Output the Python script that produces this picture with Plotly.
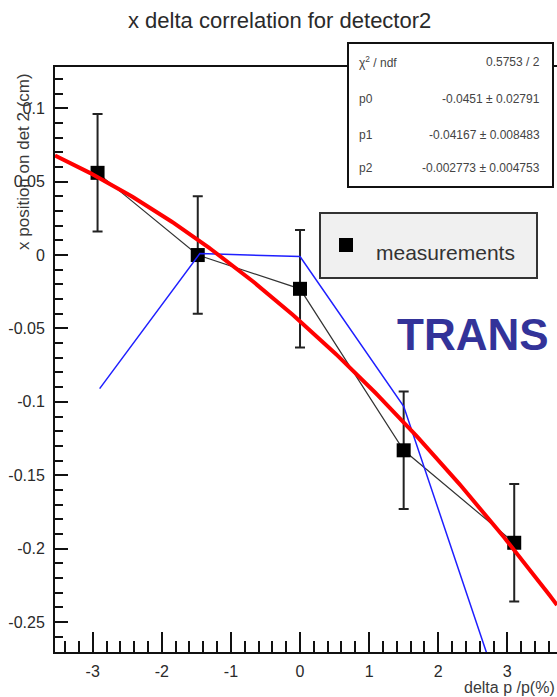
import numpy as np
import plotly.graph_objects as go

# Measured x position on detector 2 versus momentum deviation
delta_p = [-2.93, -1.48, 0.0, 1.5, 3.1]
x_pos = [0.056, 0.0, -0.023, -0.133, -0.196]
x_err = [0.04, 0.04, 0.04, 0.04, 0.04]

# Transport calculation (blue polyline)
trans_dp = [-2.9, -1.45, 0.0, 1.5, 3.1]
trans_x = [-0.091, 0.001, -0.001, -0.103, -0.327]

# Second-order polynomial fit results
fit_names = ["p0", "p1", "p2"]
fit_vals = [-0.0451, -0.04167, -0.002773]
fit_errs = [0.02791, 0.008483, 0.004753]
chi2, ndf = 0.5753, 2

# Axis tick labels
x_ticks = [-3, -2, -1, 0, 1, 2, 3]
x_ticktext = ["-3", "-2", "-1", "0", "1", "2", "3"]
y_ticks = [-0.25, -0.2, -0.15, -0.1, -0.05, 0, 0.05, 0.1]
y_ticktext = ["-0.25", "-0.2", "-0.15", "-0.1", "-0.05", "0", "0.05", "0.1"]

W, H = 557, 697
L, R, T, B = 55, 0, 67, 45
XR = [-3.546, 3.719]
YR = [-0.2704, 0.1281]
PW, PH = W - L - R, H - T - B


def px(xp):
    return (xp - L) / PW


def py(yp):
    return (H - B - yp) / PH


FONT = "Liberation Sans, Arial, Helvetica, sans-serif"
INK = "#2a2a2a"

fig = go.Figure()

# thin line joining the measurements
fig.add_trace(go.Scatter(x=delta_p, y=x_pos, mode="lines",
                         line=dict(color="#333333", width=1.2),
                         showlegend=False, hoverinfo="skip"))

# measurements with error bars
fig.add_trace(go.Scatter(x=delta_p, y=x_pos, mode="markers",
                         marker=dict(symbol="square", size=14, color="black"),
                         error_y=dict(type="data", array=x_err, visible=True,
                                      color="#222222", thickness=2, width=5),
                         name="measurements", showlegend=False))

# transport prediction
fig.add_trace(go.Scatter(x=trans_dp, y=trans_x, mode="lines",
                         line=dict(color="#1f1fff", width=1.5),
                         showlegend=False))

# fitted polynomial p0 + p1*x + p2*x^2
xf = np.linspace(XR[0], XR[1], 200)
yf = fit_vals[0] + fit_vals[1] * xf + fit_vals[2] * xf ** 2
fig.add_trace(go.Scatter(x=xf, y=yf, mode="lines",
                         line=dict(color="#ff0000", width=4),
                         showlegend=False, hoverinfo="skip"))

shapes = []
annotations = []

# statistics box
shapes.append(dict(type="rect", xref="paper", yref="paper",
                   x0=px(348), x1=px(553), y0=py(187), y1=py(43),
                   fillcolor="white", line=dict(color="#111111", width=2),
                   layer="above"))
rows = [("χ<sup>2</sup> / ndf", f"{chi2} / {ndf}")]
for n, v, e in zip(fit_names, fit_vals, fit_errs):
    rows.append((n, f"{v} ± {e}"))
row_y = [62, 99, 135, 168]
for (lt, rt), yy in zip(rows, row_y):
    annotations.append(dict(text=lt, x=px(357), y=py(yy), xref="paper", yref="paper",
                            xanchor="left", yanchor="middle", showarrow=False,
                            font=dict(family=FONT, size=12, color="#444444")))
    annotations.append(dict(text=rt, x=px(542), y=py(yy), xref="paper", yref="paper",
                            xanchor="right", yanchor="middle", showarrow=False,
                            font=dict(family=FONT, size=12, color="#444444")))

# legend box
shapes.append(dict(type="rect", xref="paper", yref="paper",
                   x0=px(320), x1=px(537), y0=py(278), y1=py(213),
                   fillcolor="#f0f0f0", line=dict(color="#333333", width=2),
                   layer="above"))
shapes.append(dict(type="rect", xref="paper", yref="paper",
                   x0=px(339), x1=px(353), y0=py(252), y1=py(238),
                   fillcolor="black", line=dict(color="black", width=0),
                   layer="above"))
annotations.append(dict(text="measurements", x=px(374), y=py(252), xref="paper", yref="paper",
                        xanchor="left", yanchor="middle", showarrow=False,
                        font=dict(family=FONT, size=21, color="#333333")))

# title and axis titles
annotations.append(dict(text="x delta correlation for detector2", x=px(279), y=py(20),
                        xref="paper", yref="paper", xanchor="center", yanchor="middle",
                        showarrow=False, font=dict(family=FONT, size=22, color=INK)))
annotations.append(dict(text="x position on det 2 (cm)", x=px(23), y=py(162),
                        xref="paper", yref="paper", xanchor="center", yanchor="middle",
                        textangle=-90, showarrow=False,
                        font=dict(family=FONT, size=17, color="#3a3a3a")))
annotations.append(dict(text="delta p /p(%)", x=1.0, y=py(687),
                        xref="paper", yref="paper", xanchor="right", yanchor="middle",
                        showarrow=False, font=dict(family=FONT, size=16, color="#3a3a3a")))
annotations.append(dict(text="<b>TRANS</b>", x=px(395), y=py(334),
                        xref="paper", yref="paper", xanchor="left", yanchor="middle",
                        showarrow=False, font=dict(family=FONT, size=44, color="#333399")))

fig.update_layout(
    width=W, height=H,
    margin=dict(l=L, r=R, t=T, b=B, pad=0),
    paper_bgcolor="white", plot_bgcolor="white",
    shapes=shapes, annotations=annotations,
    showlegend=False,
    xaxis=dict(range=XR, showgrid=False, zeroline=False,
               showline=True, linecolor="#111111", linewidth=2, mirror=True,
               ticks="inside", ticklen=20, tickwidth=2, tickcolor="#111111",
               tickvals=x_ticks, ticktext=x_ticktext, ticklabelstandoff=4,
               tickfont=dict(family=FONT, size=16, color=INK),
               minor=dict(ticks="inside", ticklen=11, tickwidth=2,
                          tickcolor="#111111", tick0=0, dtick=0.2, showgrid=False)),
    yaxis=dict(range=YR, showgrid=False, zeroline=False,
               showline=True, linecolor="#111111", linewidth=2,
               ticks="inside", ticklen=13, tickwidth=2, tickcolor="#111111",
               tickvals=y_ticks, ticktext=y_ticktext, ticklabelstandoff=5,
               tickfont=dict(family=FONT, size=16, color=INK),
               minor=dict(ticks="inside", ticklen=8, tickwidth=2,
                          tickcolor="#111111", tick0=0, dtick=0.01, showgrid=False)),
)

fig.write_html("out.html")
